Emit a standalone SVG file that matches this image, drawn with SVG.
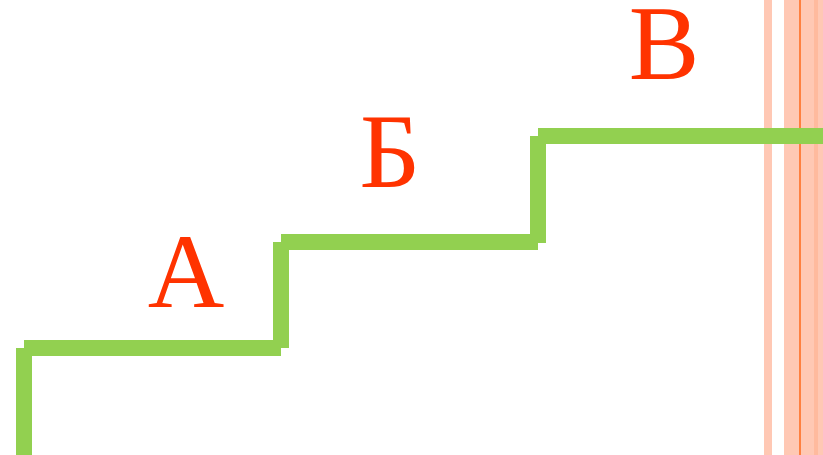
<svg xmlns="http://www.w3.org/2000/svg" width="823" height="455" viewBox="0 0 823 455">
  <style>
    .step { fill: #92D050; }
    .lbl { font-family: "Liberation Serif", "Times New Roman", serif; font-size: 106px; fill: #FF3300; text-anchor: middle; }
  </style>
  <rect width="823" height="455" fill="#FFFFFF"/>
  <g id="stripes">
    <rect x="764" y="0" width="8" height="455" fill="#FFC8B4"/>
    <rect x="784" y="0" width="39" height="455" fill="#FFC8B4"/>
    <rect x="814" y="0" width="4" height="455" fill="#FFBA9E"/>
    <rect x="799" y="0" width="2" height="455" fill="#FF8040"/>
  </g>
  <g id="stairs">
    <rect class="step" x="16" y="348" width="16" height="107"/>
    <rect class="step" x="24" y="340" width="257" height="16"/>
    <rect class="step" x="273" y="242" width="16" height="106"/>
    <rect class="step" x="281" y="234" width="257" height="16"/>
    <rect class="step" x="530" y="136" width="16" height="107"/>
    <rect class="step" x="538" y="128" width="285" height="16"/>
  </g>
  <g id="labels">
    <text class="lbl" x="186" y="307">А</text>
    <text class="lbl" x="390" y="187">Б</text>
    <text class="lbl" x="664" y="79">В</text>
  </g>
</svg>
